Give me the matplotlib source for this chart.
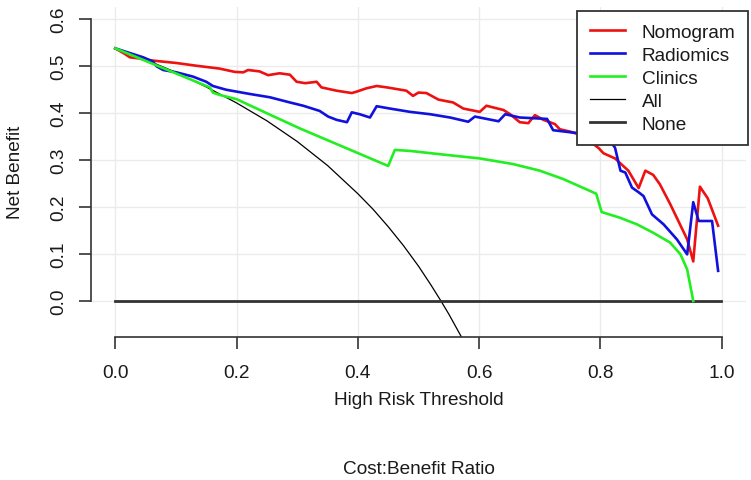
import matplotlib
matplotlib.use("Agg")
import matplotlib.pyplot as plt

plt.rcParams['font.family'] = ['Liberation Sans', 'DejaVu Sans']

# --------------------------------------------------------------
# decision curves (threshold, net benefit)
nomo_t = [0, 0.016, 0.024, 0.037, 0.062, 0.10, 0.134, 0.172, 0.197, 0.211,
          0.219, 0.238, 0.252, 0.271, 0.288, 0.299, 0.313, 0.326, 0.332, 0.340,
          0.365, 0.390, 0.398, 0.414, 0.431, 0.448, 0.480, 0.491, 0.500, 0.513,
          0.533, 0.557, 0.574, 0.601, 0.612, 0.640, 0.651, 0.667, 0.681, 0.692,
          0.706, 0.725, 0.733, 0.750, 0.770, 0.797, 0.805, 0.824, 0.846, 0.863,
          0.874, 0.887, 0.898, 0.915, 0.943, 0.953, 0.964, 0.977, 0.994]
nomo_nb = [0.537, 0.525, 0.518, 0.516, 0.511, 0.506, 0.500, 0.494, 0.487, 0.486,
           0.491, 0.488, 0.480, 0.484, 0.481, 0.466, 0.463, 0.465, 0.466, 0.454,
           0.447, 0.442, 0.445, 0.452, 0.457, 0.454, 0.447, 0.436, 0.443, 0.442,
           0.428, 0.422, 0.409, 0.402, 0.415, 0.406, 0.397, 0.380, 0.378, 0.395,
           0.385, 0.376, 0.365, 0.360, 0.352, 0.325, 0.314, 0.303, 0.277, 0.240,
           0.277, 0.268, 0.248, 0.206, 0.131, 0.084, 0.243, 0.218, 0.160]

radio_t = [0, 0.046, 0.062, 0.068, 0.079, 0.101, 0.128, 0.150, 0.161, 0.183,
           0.222, 0.255, 0.288, 0.310, 0.337, 0.351, 0.365, 0.382, 0.390, 0.403,
           0.420, 0.431, 0.453, 0.486, 0.519, 0.552, 0.582, 0.593, 0.632, 0.643,
           0.667, 0.712, 0.722, 0.761, 0.790, 0.812, 0.824, 0.833, 0.841, 0.852,
           0.863, 0.871, 0.885, 0.904, 0.926, 0.943, 0.953, 0.962, 0.984, 0.994]
radio_nb = [0.537, 0.518, 0.509, 0.499, 0.491, 0.486, 0.477, 0.466, 0.457, 0.449,
            0.440, 0.433, 0.422, 0.415, 0.404, 0.392, 0.385, 0.380, 0.401, 0.397,
            0.390, 0.414, 0.409, 0.402, 0.397, 0.390, 0.381, 0.392, 0.382, 0.397,
            0.390, 0.387, 0.363, 0.357, 0.352, 0.346, 0.326, 0.277, 0.273, 0.241,
            0.231, 0.223, 0.184, 0.163, 0.131, 0.099, 0.210, 0.170, 0.170, 0.064]

clin_t = [0, 0.156, 0.161, 0.172, 0.200, 0.250, 0.304, 0.450, 0.461, 0.486,
          0.535, 0.601, 0.656, 0.700, 0.739, 0.793, 0.802, 0.832, 0.860, 0.887,
          0.915, 0.932, 0.943, 0.953]
clin_nb = [0.537, 0.454, 0.443, 0.438, 0.429, 0.399, 0.367, 0.287, 0.321, 0.319,
           0.312, 0.303, 0.291, 0.277, 0.259, 0.228, 0.189, 0.177, 0.163, 0.145,
           0.124, 0.099, 0.067, 0.0]

all_t = [0, 0.05, 0.1, 0.15, 0.2, 0.25, 0.3, 0.35, 0.4, 0.425, 0.45, 0.475,
         0.5, 0.52, 0.537, 0.55, 0.571]
all_nb = [0.537, 0.513, 0.486, 0.455, 0.421, 0.383, 0.339, 0.288, 0.228, 0.195,
          0.158, 0.118, 0.074, 0.035, 0.0, -0.028, -0.077]

none_t = [0, 0.999]
none_nb = [0, 0]

x_ticks = [0.0, 0.2, 0.4, 0.6, 0.8, 1.0]
y_ticks = [0.0, 0.1, 0.2, 0.3, 0.4, 0.5, 0.6]

# --------------------------------------------------------------
W, H = 751, 481
FS = 13.7
TXT = '#1a1a1a'
fig = plt.figure(figsize=(W / 100, H / 100), dpi=100)
ax = fig.add_axes([91 / W, 1 - 337.7 / H, (746 - 91) / W, (337.7 - 7.5) / H])

ax.plot(all_t, all_nb, color='black', lw=0.9, label='All')
ax.plot(none_t, none_nb, color='#333333', lw=2.0, label='None')
ax.plot(nomo_t, nomo_nb, color='#ee1111', lw=1.9, label='Nomogram')
ax.plot(radio_t, radio_nb, color='#1111dd', lw=1.9, label='Radiomics')
ax.plot(clin_t, clin_nb, color='#22ee22', lw=1.9, label='Clinics')

ax.set_xlim(-0.04, 1.04)
ax.set_ylim(-0.076, 0.626)
ax.set_xticks(x_ticks)
ax.set_yticks(y_ticks)
ax.set_xticklabels([f"{v:.1f}" for v in x_ticks])
ax.set_yticklabels([f"{v:.1f}" for v in y_ticks])
for lbl in ax.get_yticklabels():
    lbl.set_rotation(90)
    lbl.set_va('center')

ax.grid(color='#ebebeb', lw=1)
ax.set_axisbelow(True)

for s in ['top', 'right']:
    ax.spines[s].set_visible(False)
ax.spines['left'].set_bounds(0, 0.6)
ax.spines['bottom'].set_bounds(0, 1)
for s in ['left', 'bottom']:
    ax.spines[s].set_color('#333333')
    ax.spines[s].set_linewidth(1.2)
ax.tick_params(axis='both', length=8.5, width=1.2, color='#333333',
               labelsize=FS, labelcolor=TXT)
ax.tick_params(axis='y', pad=8.5)
ax.tick_params(axis='x', pad=11)

ax.set_xlabel('High Risk Threshold', fontsize=FS, color=TXT, labelpad=7.5)
ax.set_ylabel('Net Benefit', fontsize=FS, color=TXT, labelpad=19)
fig.text(418.5 / W, 1 - 470 / H, 'Cost:Benefit Ratio', fontsize=FS,
         color=TXT, ha='center', va='center')

handles, labels = ax.get_legend_handles_labels()
order = [2, 3, 4, 0, 1]
leg = ax.legend([handles[i] for i in order], [labels[i] for i in order],
                loc='upper right', bbox_to_anchor=(748 / W, 1 - 12 / H),
                bbox_transform=fig.transFigure, borderaxespad=0,
                fontsize=FS, frameon=True, fancybox=False, framealpha=1,
                edgecolor='#333333', handlelength=1.84, handletextpad=0.9,
                labelspacing=0.3, borderpad=0.65)
leg.get_frame().set_linewidth(1.3)
for t in leg.get_texts():
    t.set_color(TXT)

fig.savefig('out.png', dpi=100)
